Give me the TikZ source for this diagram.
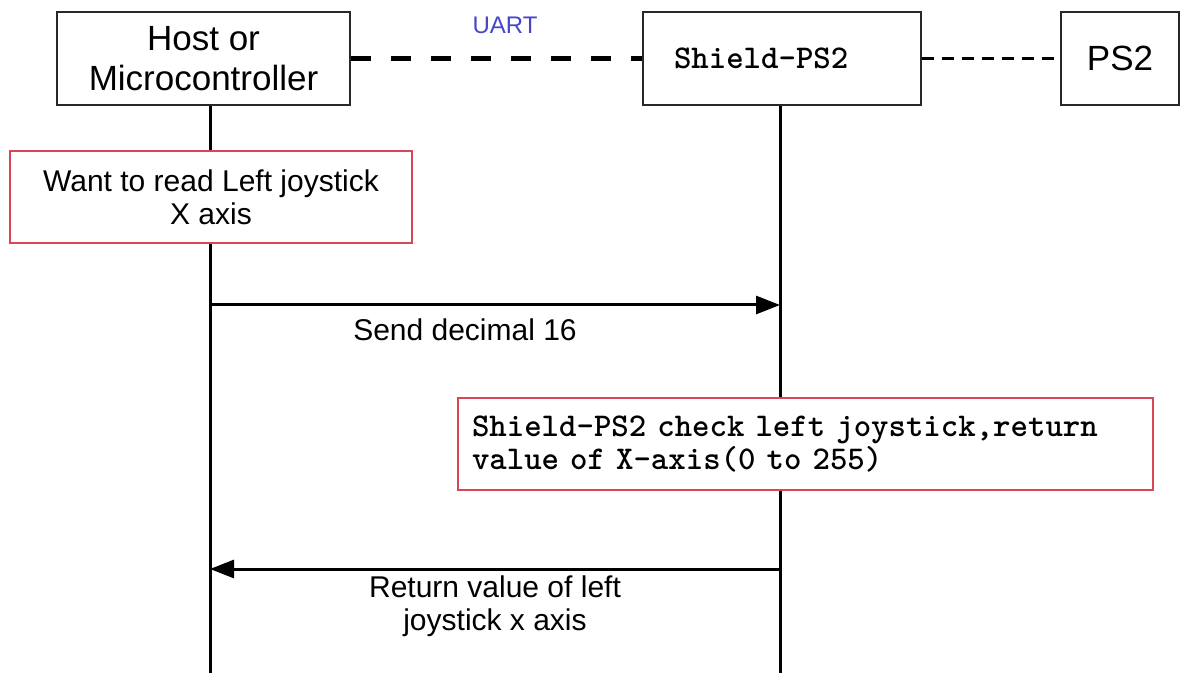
\documentclass[tikz,border=0pt]{standalone}
\usepackage{fontspec}
\setmainfont{Liberation Sans}
\usepackage{tikz}
\usetikzlibrary{arrows.meta}

\definecolor{uartblue}{RGB}{70,70,200}
\definecolor{notered}{RGB}{214,72,88}
\definecolor{boxgray}{RGB}{40,40,40}

\begin{document}
\begin{tikzpicture}[x=0.5pt, y=-0.5pt,
  head/.style={draw=boxgray, line width=0.9pt, fill=white, minimum height=46.5pt,
    font=\fontsize{17.5}{20}\selectfont, align=center},
  note/.style={draw=notered, line width=1pt, fill=white, minimum height=46pt,
    font=\fontsize{15}{16.5}\selectfont, align=center},
  code/.style={font=\ttfamily\bfseries\fontsize{16.6}{16.5}\selectfont},
  life/.style={line width=1.5pt},
  msg/.style={line width=1.5pt, -{Triangle[length=12pt, width=9pt]}}]

\useasboundingbox (0,0) rectangle (1182,673);

% The three participants
\node[head, minimum width=146.5pt] (host) at (203.5,58.5) {Host or\\Microcontroller};
\node[head, code, minimum width=139pt, text width=108pt, inner xsep=15.5pt, align=left]
  (shield) at (782,58.5) {Shield-PS2};
\node[head, minimum width=59pt] (ps2) at (1120,58.5) {PS2};

% The links between them
\draw[line width=2.5pt, dash pattern=on 10pt off 10pt] (host.east) -- (shield.west);
\draw[line width=1.5pt, dash pattern=on 6pt off 4pt] (shield.east) -- (ps2.west);
\node[text=uartblue, font=\fontsize{12}{14}\selectfont] (uart) at (505,25) {UART};

% Lifelines
\coordinate (hostbot) at (210,673);
\coordinate (shieldbot) at (780,673);
\draw[life] (host.south -| hostbot) -- (hostbot);
\draw[life] (shield.south -| shieldbot) -- (shieldbot);

% Notes on the lifelines
\node[note, minimum width=201pt] (want) at (211,197.5) {Want to read Left joystick\\X axis};
\node[note, code, minimum width=347.5pt, text width=333.5pt, inner xsep=7pt, align=left]
  (check) at (805.5,444)
  {Shield-PS2 check left joystick,return\\value of X-axis(0 to 255)};

% Messages
\coordinate (send0) at (210,305);
\coordinate (ret0) at (780,569);
\draw[msg] (send0) -- (send0 -| shieldbot);
\node[font=\fontsize{15}{16.5}\selectfont] (sendlbl) at (465,330) {Send decimal 16};
\draw[msg] (ret0) -- (ret0 -| hostbot);
\node[font=\fontsize{15}{16.5}\selectfont, align=center] (retlbl) at (495,606)
  {Return value of left\\joystick x axis};

\end{tikzpicture}
\end{document}
